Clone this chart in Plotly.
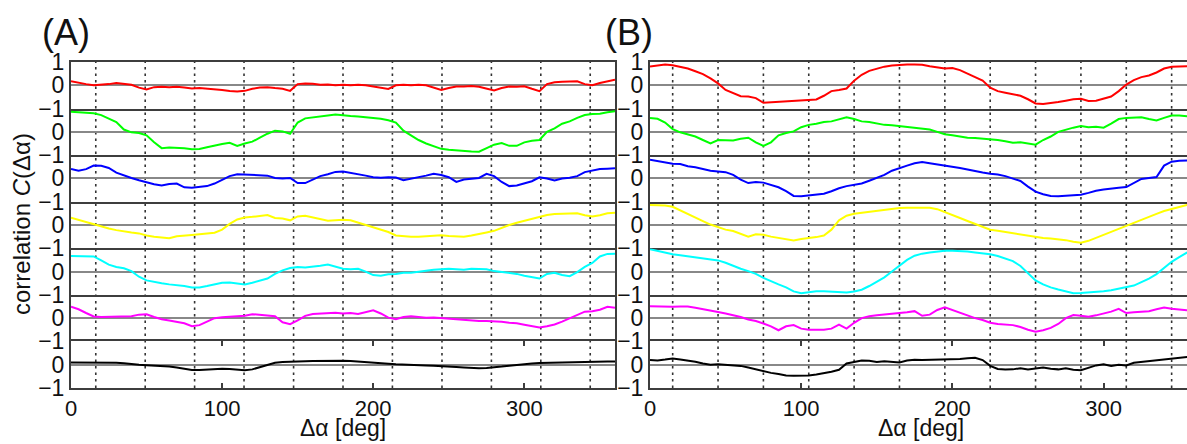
import plotly.graph_objects as go

# ---------------- data ----------------
angles = list(range(0, 361, 5))
series_colors = ['#ff0000', '#00ff00', '#0000ff', '#ffff00', '#00ffff', '#ff00ff', '#000000']
x_ticks = [0, 100, 200, 300]
y_tickvals = [-1, 0, 1]
y_ticktext = ['\u22121', '0', '1']
dash_a = [16.4, 49.1, 81.8, 114.5, 147.3, 180.0, 212.7, 245.5, 278.2, 310.9, 343.6]
dash_b = [15, 45, 75, 105, 135, 165, 195, 225, 255, 285, 315, 345]

a_red = [0.17, 0.1, 0.05, 0.0, 0.02, 0.05, 0.1, 0.05, 0.02, -0.1, -0.18, -0.08, -0.06, -0.08, -0.06, -0.1, -0.14, -0.12, -0.14, -0.15, -0.2, -0.25, -0.27, -0.24, -0.15, -0.1, -0.08, -0.12, -0.15, -0.24, 0.05, 0.08, 0.07, 0.02, 0.03, 0.0, 0.02, 0.0, 0.02, 0.0, -0.05, -0.12, -0.16, 0.0, 0.02, 0.0, 0.02, 0.0, -0.1, -0.2, -0.12, -0.05, -0.05, -0.03, -0.06, -0.15, -0.22, -0.12, -0.05, -0.06, -0.04, -0.15, -0.25, 0.05, 0.13, 0.15, 0.16, 0.17, 0.05, 0.0, 0.1, 0.18, 0.24]
a_green = [0.86, 0.84, 0.82, 0.8, 0.72, 0.58, 0.42, 0.1, -0.02, -0.05, -0.15, -0.45, -0.7, -0.67, -0.68, -0.7, -0.75, -0.74, -0.66, -0.58, -0.52, -0.47, -0.6, -0.5, -0.42, -0.25, -0.08, 0.05, 0.02, -0.08, 0.4, 0.58, 0.63, 0.68, 0.7, 0.74, 0.7, 0.68, 0.66, 0.63, 0.6, 0.56, 0.5, 0.4, 0.05, -0.15, -0.35, -0.5, -0.63, -0.73, -0.77, -0.8, -0.82, -0.84, -0.85, -0.7, -0.55, -0.48, -0.6, -0.6, -0.45, -0.38, -0.35, 0.0, 0.15, 0.35, 0.45, 0.6, 0.72, 0.77, 0.78, 0.84, 0.88]
a_blue = [0.41, 0.33, 0.4, 0.55, 0.54, 0.45, 0.25, 0.12, 0.02, -0.08, -0.18, -0.25, -0.3, -0.24, -0.22, -0.38, -0.4, -0.37, -0.33, -0.22, -0.05, 0.1, 0.18, 0.16, 0.14, 0.15, 0.12, 0.02, 0.0, 0.02, -0.2, -0.2, -0.05, 0.1, 0.18, 0.28, 0.3, 0.25, 0.2, 0.12, 0.05, 0.03, 0.05, 0.04, -0.08, -0.02, 0.05, 0.12, 0.2, 0.15, 0.05, -0.15, -0.05, 0.0, 0.02, 0.2, 0.1, -0.15, -0.33, -0.3, -0.22, -0.12, 0.05, 0.0, -0.09, 0.0, 0.03, 0.1, 0.27, 0.33, 0.4, 0.42, 0.44]
a_yellow = [0.31, 0.22, 0.12, 0.02, -0.08, -0.15, -0.22, -0.28, -0.32, -0.36, -0.45, -0.5, -0.53, -0.57, -0.48, -0.47, -0.43, -0.4, -0.38, -0.33, -0.2, 0.05, 0.24, 0.32, 0.35, 0.38, 0.43, 0.3, 0.28, 0.2, 0.37, 0.4, 0.33, 0.25, 0.18, 0.2, 0.22, 0.2, 0.1, 0.0, -0.08, -0.18, -0.3, -0.45, -0.48, -0.5, -0.5, -0.48, -0.47, -0.44, -0.47, -0.5, -0.5, -0.45, -0.4, -0.32, -0.25, -0.12, 0.0, 0.1, 0.19, 0.28, 0.35, 0.43, 0.47, 0.48, 0.5, 0.5, 0.42, 0.37, 0.42, 0.5, 0.53]
a_cyan = [0.67, 0.66, 0.64, 0.65, 0.48, 0.3, 0.2, 0.14, 0.02, -0.22, -0.38, -0.45, -0.5, -0.55, -0.57, -0.62, -0.68, -0.68, -0.62, -0.55, -0.48, -0.47, -0.52, -0.55, -0.48, -0.38, -0.3, -0.1, 0.05, 0.15, 0.2, 0.18, 0.2, 0.25, 0.3, 0.22, 0.12, 0.1, 0.12, 0.0, -0.15, -0.18, -0.12, -0.1, -0.05, -0.05, 0.0, 0.05, 0.08, 0.1, 0.12, 0.1, 0.08, 0.12, 0.1, 0.1, 0.02, -0.02, -0.03, -0.1, -0.18, -0.25, -0.3, -0.1, -0.05, -0.15, -0.2, -0.02, 0.2, 0.37, 0.65, 0.76, 0.77]
a_magenta = [0.49, 0.38, 0.22, 0.07, 0.05, 0.06, 0.08, 0.1, 0.08, 0.15, 0.17, 0.05, -0.05, -0.1, -0.15, -0.22, -0.35, -0.3, -0.15, 0.0, 0.04, 0.05, 0.08, 0.1, 0.17, 0.15, 0.12, 0.08, -0.18, -0.26, -0.1, 0.1, 0.18, 0.2, 0.22, 0.23, 0.2, 0.22, 0.18, 0.25, 0.34, 0.2, 0.02, -0.05, 0.05, 0.08, 0.05, 0.02, 0.03, 0.0, -0.02, -0.05, -0.08, -0.11, -0.12, -0.12, -0.12, -0.15, -0.2, -0.22, -0.28, -0.35, -0.4, -0.35, -0.27, -0.15, 0.0, 0.15, 0.28, 0.3, 0.36, 0.49, 0.45]
a_black = [0.1, 0.1, 0.1, 0.09, 0.09, 0.1, 0.08, 0.06, 0.02, 0.0, -0.02, -0.03, -0.05, -0.08, -0.12, -0.18, -0.23, -0.23, -0.2, -0.18, -0.17, -0.18, -0.2, -0.24, -0.2, -0.1, 0.0, 0.08, 0.12, 0.14, 0.14, 0.15, 0.16, 0.17, 0.17, 0.17, 0.17, 0.16, 0.13, 0.1, 0.08, 0.06, 0.04, 0.02, 0.0, -0.01, -0.02, -0.03, -0.04, -0.05, -0.07, -0.1, -0.12, -0.14, -0.15, -0.14, -0.12, -0.08, -0.04, 0.0, 0.03, 0.05, 0.07, 0.08, 0.09, 0.1, 0.11, 0.12, 0.13, 0.13, 0.14, 0.14, 0.14]

b_red = [0.81, 0.85, 0.89, 0.86, 0.8, 0.72, 0.6, 0.48, 0.3, 0.08, -0.2, -0.35, -0.47, -0.48, -0.55, -0.75, -0.73, -0.7, -0.7, -0.67, -0.66, -0.65, -0.61, -0.45, -0.25, -0.2, -0.14, 0.2, 0.45, 0.62, 0.72, 0.8, 0.85, 0.88, 0.89, 0.89, 0.88, 0.82, 0.76, 0.72, 0.74, 0.65, 0.5, 0.36, 0.2, -0.1, -0.25, -0.32, -0.38, -0.45, -0.6, -0.78, -0.8, -0.77, -0.72, -0.66, -0.6, -0.58, -0.67, -0.66, -0.58, -0.48, -0.25, 0.03, 0.22, 0.35, 0.42, 0.55, 0.72, 0.8, 0.81, 0.82, 0.83]
b_green = [0.6, 0.56, 0.4, 0.12, -0.02, -0.12, -0.2, -0.35, -0.5, -0.35, -0.35, -0.37, -0.3, -0.25, -0.45, -0.6, -0.45, -0.15, -0.05, 0.02, 0.2, 0.3, 0.35, 0.42, 0.45, 0.55, 0.63, 0.55, 0.45, 0.42, 0.35, 0.3, 0.28, 0.24, 0.2, 0.15, 0.12, 0.1, 0.0, -0.1, -0.15, -0.2, -0.25, -0.26, -0.28, -0.3, -0.35, -0.4, -0.47, -0.45, -0.5, -0.55, -0.35, -0.2, 0.0, 0.1, 0.18, 0.25, 0.2, 0.22, 0.18, 0.35, 0.55, 0.6, 0.62, 0.63, 0.55, 0.49, 0.6, 0.7, 0.7, 0.67, 0.65]
b_blue = [0.8, 0.75, 0.7, 0.63, 0.62, 0.52, 0.48, 0.4, 0.33, 0.3, 0.27, 0.15, -0.05, -0.2, -0.15, -0.18, -0.28, -0.38, -0.55, -0.75, -0.77, -0.73, -0.7, -0.66, -0.55, -0.42, -0.33, -0.28, -0.22, -0.1, 0.03, 0.15, 0.33, 0.45, 0.55, 0.65, 0.7, 0.65, 0.6, 0.56, 0.52, 0.45, 0.38, 0.3, 0.25, 0.2, 0.17, 0.1, 0.0, -0.11, -0.35, -0.57, -0.68, -0.75, -0.77, -0.75, -0.72, -0.7, -0.62, -0.53, -0.48, -0.43, -0.4, -0.37, -0.2, -0.02, 0.02, 0.06, 0.55, 0.72, 0.76, 0.77, 0.78]
b_yellow = [0.86, 0.85, 0.84, 0.78, 0.62, 0.48, 0.32, 0.17, 0.02, -0.1, -0.2, -0.26, -0.38, -0.5, -0.4, -0.42, -0.5, -0.55, -0.6, -0.66, -0.6, -0.57, -0.52, -0.45, -0.2, 0.2, 0.4, 0.48, 0.52, 0.56, 0.6, 0.65, 0.7, 0.73, 0.74, 0.74, 0.74, 0.74, 0.68, 0.56, 0.45, 0.3, 0.17, 0.05, -0.08, -0.2, -0.25, -0.3, -0.36, -0.4, -0.45, -0.53, -0.56, -0.58, -0.61, -0.65, -0.72, -0.76, -0.68, -0.55, -0.42, -0.3, -0.15, -0.04, 0.1, 0.25, 0.38, 0.48, 0.6, 0.68, 0.78, 0.86, 0.88]
b_cyan = [0.96, 0.88, 0.8, 0.74, 0.7, 0.66, 0.62, 0.58, 0.54, 0.48, 0.38, 0.24, 0.12, 0.02, -0.1, -0.27, -0.42, -0.55, -0.68, -0.85, -0.93, -0.88, -0.84, -0.85, -0.87, -0.89, -0.9, -0.86, -0.78, -0.62, -0.45, -0.25, 0.0, 0.24, 0.5, 0.68, 0.77, 0.82, 0.86, 0.89, 0.89, 0.88, 0.86, 0.82, 0.79, 0.74, 0.67, 0.57, 0.45, 0.24, -0.05, -0.38, -0.55, -0.68, -0.77, -0.86, -0.93, -0.92, -0.9, -0.87, -0.84, -0.8, -0.74, -0.69, -0.6, -0.45, -0.3, -0.11, 0.15, 0.42, 0.62, 0.81, 0.92]
b_magenta = [0.51, 0.5, 0.48, 0.49, 0.5, 0.5, 0.45, 0.38, 0.3, 0.26, 0.2, 0.13, 0.05, -0.06, -0.12, -0.23, -0.35, -0.52, -0.35, -0.3, -0.45, -0.5, -0.51, -0.5, -0.45, -0.28, -0.45, -0.2, 0.0, 0.08, 0.12, 0.15, 0.18, 0.2, 0.25, 0.3, 0.1, 0.15, 0.35, 0.46, 0.35, 0.23, 0.1, 0.0, -0.08, -0.2, -0.25, -0.27, -0.3, -0.38, -0.5, -0.58, -0.52, -0.42, -0.25, 0.0, 0.13, 0.1, 0.06, 0.12, 0.2, 0.28, 0.4, 0.22, 0.25, 0.27, 0.3, 0.38, 0.46, 0.4, 0.36, 0.34, 0.35]
b_black = [0.2, 0.18, 0.22, 0.27, 0.22, 0.18, 0.13, 0.05, 0.0, 0.02, 0.0, 0.0, -0.05, -0.12, -0.2, -0.27, -0.35, -0.4, -0.46, -0.47, -0.47, -0.46, -0.42, -0.37, -0.3, -0.22, 0.05, 0.12, 0.18, 0.17, 0.12, 0.15, 0.12, 0.1, 0.18, 0.21, 0.2, 0.21, 0.22, 0.21, 0.24, 0.25, 0.28, 0.3, 0.2, -0.05, -0.18, -0.21, -0.2, -0.15, -0.2, -0.17, -0.12, -0.17, -0.2, -0.15, -0.22, -0.24, -0.12, -0.03, 0.02, -0.05, 0.0, -0.03, 0.08, 0.12, 0.15, 0.18, 0.21, 0.25, 0.3, 0.36, 0.37]

panel_a = [a_red, a_green, a_blue, a_yellow, a_cyan, a_magenta, a_black]
panel_b = [b_red, b_green, b_blue, b_yellow, b_cyan, b_magenta, b_black]

# ---------------- layout geometry ----------------
W, H = 1187, 444
TOP, BOT = 62, 388
SH = (BOT - TOP) / 7.0
FRAME = '#3d3d3d'
ZERO = '#888888'
FONT = 'Liberation Sans, Arial, Helvetica, sans-serif'

panels = [
    dict(data=panel_a, left=71, right=615, xmax=360, dashes=dash_a, label='(A)', lab_x=66, title_x=343),
    dict(data=panel_b, left=650, right=W, xmax=(W - 650) / 1.512, dashes=dash_b, label='(B)', lab_x=629, title_x=921),
]

fig = go.Figure()
layout = {}
shapes = []
annotations = []

for p, pan in enumerate(panels):
    for i in range(7):
        n = p * 7 + i + 1
        xs = '' if n == 1 else str(n)
        xkey = 'xaxis' + xs
        ykey = 'yaxis' + xs
        bottom = (i == 6)
        y_top = TOP + i * SH
        y_bot = TOP + (i + 1) * SH
        if bottom:
            mirror = 'ticks'
        elif i == 0:
            mirror = True
        else:
            mirror = False
        layout[xkey] = dict(
            domain=[pan['left'] / W, pan['right'] / W],
            anchor='y' + xs, range=[0, pan['xmax']],
            showline=(i != 5), linecolor=FRAME, linewidth=2,
            mirror=mirror, automargin=False,
            showgrid=False, zeroline=False,
            ticks='inside' if bottom else '', ticklen=5, tickcolor=FRAME, tickwidth=1.5,
            tickvals=x_ticks, showticklabels=bottom,
            tickfont=dict(size=22, color='#111', family=FONT),
            fixedrange=True,
        )
        tv = y_tickvals if i == 0 else y_tickvals[:2]
        tt = y_ticktext if i == 0 else y_ticktext[:2]
        layout[ykey] = dict(
            domain=[1 - y_bot / H, 1 - y_top / H],
            anchor='x' + xs, range=[-1, 1], automargin=False,
            showline=True, linecolor=FRAME, linewidth=2, mirror=True,
            showgrid=False, zeroline=True, zerolinecolor=ZERO, zerolinewidth=1.8,
            tickvals=tv, ticktext=tt, ticks='',
            tickfont=dict(size=23, color='#111', family=FONT),
            fixedrange=True,
        )
        fig.add_trace(go.Scatter(
            x=angles, y=pan['data'][i], mode='lines',
            line=dict(color=series_colors[i], width=2),
            xaxis='x' + xs, yaxis='y' + xs, showlegend=False, hoverinfo='skip',
        ))
    xref = 'x' if p == 0 else 'x8'
    for d in pan['dashes']:
        shapes.append(dict(type='line', xref=xref, yref='paper', x0=d, x1=d,
                           y0=1 - BOT / H, y1=1 - TOP / H, layer='below',
                           line=dict(color='#333333', width=1.6, dash='2.5px,4px')))
    annotations.append(dict(text=pan['label'], x=pan['lab_x'] / W, y=1 - 32 / H,
                            xref='paper', yref='paper', xanchor='center', yanchor='middle',
                            showarrow=False, font=dict(size=36, color='#111', family=FONT)))
    annotations.append(dict(text='\u0394\u03b1 [deg]', x=pan['title_x'] / W, y=1 - 428 / H,
                            xref='paper', yref='paper', xanchor='center', yanchor='middle',
                            showarrow=False, font=dict(size=23, color='#111', family=FONT)))

annotations.append(dict(text='correlation <i>C</i>(\u0394\u03b1)', x=22 / W, y=1 - 224 / H,
                        xref='paper', yref='paper', xanchor='center', yanchor='middle',
                        textangle=-90, showarrow=False,
                        font=dict(size=24, color='#111', family=FONT)))

fig.update_layout(
    width=W, height=H,
    margin=dict(l=0, r=0, t=0, b=0, pad=0),
    paper_bgcolor='white', plot_bgcolor='white',
    shapes=shapes, annotations=annotations,
    **layout,
)

fig.write_html('out.html', config={'displayModeBar': False},
               post_script="document.body.style.margin='0';document.body.style.overflow='hidden';")
